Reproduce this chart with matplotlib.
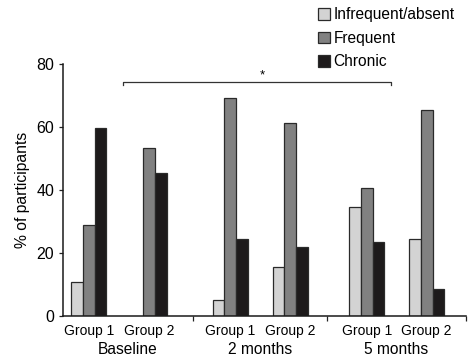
import matplotlib
matplotlib.use("Agg")
import matplotlib.pyplot as plt
from matplotlib.patches import Patch

plt.rcParams["font.family"] = ["Liberation Sans", "DejaVu Sans"]

# % of participants per pain category, one entry per group (Baseline G1, G2, 2 months G1, G2, 5 months G1, G2)
group_labels = ["Group 1", "Group 2", "Group 1", "Group 2", "Group 1", "Group 2"]
time_labels = ["Baseline", "2 months", "5 months"]
infrequent = [10.6, 0, 4.9, 15.6, 34.6, 24.4]
frequent = [28.7, 53.3, 69.2, 61.4, 40.6, 65.5]
chronic = [59.7, 45.4, 24.4, 21.7, 23.5, 8.6]

series_names = ["Infrequent/absent", "Frequent", "Chronic"]
series_colors = ["#d3d3d3", "#818181", "#1d1a1b"]

# layout (x in pixel-like units from the y axis)
group_x = [26, 86.5, 167.5, 227.6, 304, 364]
separators = [130, 264.6, 403]
bar_w = 11.8

fig = plt.figure(figsize=(4.74, 3.56), dpi=100)
ax = fig.add_axes([62.7 / 474, 40.3 / 356, 403 / 474, 251.7 / 356])

for k, (vals, col) in enumerate(zip([infrequent, frequent, chronic], series_colors)):
    xs = [x + (k - 1) * bar_w for x in group_x]
    for x, v in zip(xs, vals):
        if v > 0:
            ax.bar(x, v, width=bar_w, color=col, edgecolor="#2a2a2a", linewidth=0.9, zorder=2)

ax.set_xlim(0, 403)
ax.set_ylim(0, 80)
ax.set_yticks([0, 20, 40, 60, 80])
ax.tick_params(axis="y", length=3, width=0.9, pad=3, labelsize=11.5, color="#222222")

ax.set_xticks(group_x)
ax.set_xticklabels(group_labels)
ax.tick_params(axis="x", which="major", length=0, pad=6, labelsize=10)
ax.set_xticks(separators, minor=True)
ax.tick_params(axis="x", which="minor", length=3.5, width=0.9, color="#222222")

for s in ["top", "right"]:
    ax.spines[s].set_visible(False)
for s in ["left", "bottom"]:
    ax.spines[s].set_linewidth(1.1)
    ax.spines[s].set_color("#1a1a1a")
    ax.spines[s].set_zorder(3)

ax.set_ylabel("% of participants", fontsize=11.3, labelpad=5)

# time point labels centred under each pair of groups
bounds = [0] + separators
for i, lab in enumerate(time_labels):
    xc = (bounds[i] + bounds[i + 1]) / 2
    ax.text(xc, -26.5 / 251.7, lab, transform=ax.get_xaxis_transform(),
            ha="center", va="top", fontsize=11.2)

# significance bracket
by = 74.3
ax.plot([60.6, 60.6, 328.3, 328.3], [by - 1.1, by, by, by - 1.1],
        color="#333333", linewidth=0.9, clip_on=False)
ax.text(199.6, by + 0.3, "*", ha="center", va="bottom", fontsize=9.5)

handles = [Patch(facecolor=c, edgecolor="#2a2a2a", linewidth=0.9) for c in series_colors]
fig.legend(handles, series_names, loc="upper left", bbox_to_anchor=(318 / 474, 1 - 7.5 / 356),
           frameon=False, fontsize=11.2, handlelength=0.8, handleheight=0.8,
           handletextpad=0.2, labelspacing=0.54, borderpad=0, borderaxespad=0)

fig.savefig("out.png", dpi=100)
